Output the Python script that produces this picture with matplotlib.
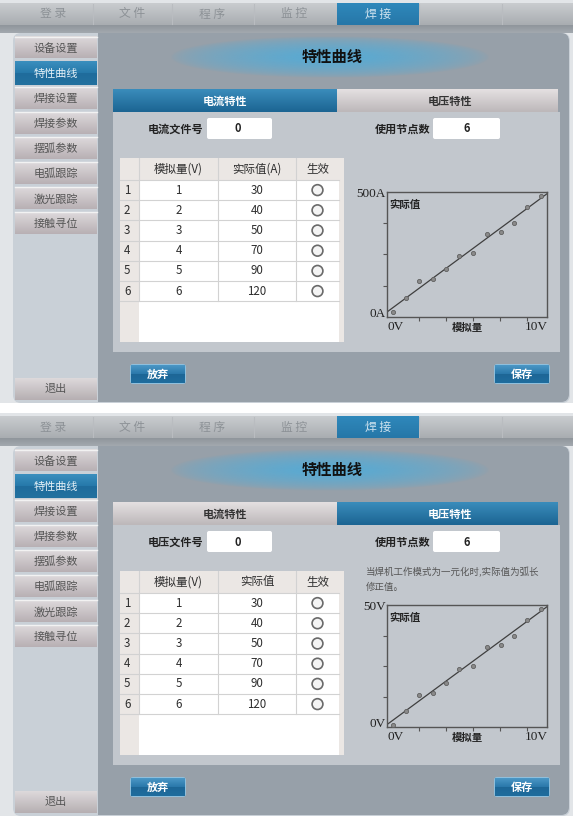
import numpy as np
import matplotlib
matplotlib.use('Agg')
import matplotlib.pyplot as plt
from matplotlib.patches import Rectangle, FancyBboxPatch, Circle
from matplotlib.colors import to_rgb

plt.rcParams['font.family'] = ['Noto Sans CJK SC', 'DejaVu Sans']

# ---- data ----
top_tabs = ['登 录', '文 件', '程 序', '监 控', '焊 接']
menu_items = ['设备设置', '特性曲线', '焊接设置', '焊接参数', '摆弧参数', '电弧跟踪', '激光跟踪', '接触寻位']
row_ids = [1, 2, 3, 4, 5, 6]
analog_v = [1, 2, 3, 4, 5, 6]
actual_vals = [30, 40, 50, 70, 90, 120]

curve_x = [0.35, 1.18, 2.01, 2.86, 3.69, 4.52, 5.39, 6.24, 7.10, 7.93, 8.76, 9.61]
current_y = [20, 77, 144, 152, 191, 245, 257, 333, 340, 377, 439, 485]
voltage_y = [0.7, 6.4, 13.3, 14.1, 18.1, 23.7, 24.8, 32.6, 33.6, 37.3, 43.7, 48.2]
fit_x = [0, 10]
current_fit = [20, 493]
voltage_fit = [1.0, 49.3]

W, H = 573, 819
fig = plt.figure(figsize=(W / 100, H / 100), dpi=100)
fig.patch.set_facecolor('#ffffff')
ax = fig.add_axes([0, 0, 1, 1])
ax.set_xlim(0, W)
ax.set_ylim(H, 0)
ax.axis('off')


def grad(x0, y0, x1, y1, c_top, c_bot, z=1):
    a, b = np.array(to_rgb(c_top)), np.array(to_rgb(c_bot))
    t = np.linspace(0, 1, 32)[:, None]
    img = (a * (1 - t) + b * t)[:, None, :]
    ax.imshow(img, extent=(x0, x1, y1, y0), origin='upper', aspect='auto',
              interpolation='bilinear', zorder=z)


def box(x0, y0, x1, y1, fc, ec='none', r=0, lw=1, z=2):
    if r > 0:
        p = FancyBboxPatch((x0, y0), x1 - x0, y1 - y0,
                           boxstyle=f'round,pad=0,rounding_size={r}',
                           fc=fc, ec=ec, lw=lw, zorder=z)
    else:
        p = Rectangle((x0, y0), x1 - x0, y1 - y0, fc=fc, ec=ec, lw=lw, zorder=z)
    ax.add_patch(p)


def glow(cx, cy, rx, ry, color, z=3):
    yy, xx = np.mgrid[-1:1:60j, -1:1:200j]
    d = np.clip(1 - np.sqrt(xx ** 2 + yy ** 2), 0, 1)
    img = np.zeros((60, 200, 4))
    img[..., :3] = to_rgb(color)
    img[..., 3] = np.clip(d ** 0.6 * 1.1, 0, 0.95)
    ax.imshow(img, extent=(cx - rx, cx + rx, cy + ry, cy - ry), origin='upper',
              aspect='auto', interpolation='bilinear', zorder=z)


def blue_button(x0, y0, x1, y1, label):
    box(x0 - 1, y0 - 1, x1 + 1, y1 + 1, '#8fbfdc', r=3, z=4)
    grad(x0, y0, x1, (y0 + y1) / 2, '#4b97c6', '#2a78aa', z=5)
    grad(x0, (y0 + y1) / 2, x1, y1, '#1d6696', '#1f6d9e', z=5)
    ax.text((x0 + x1) / 2, (y0 + y1) / 2, label, color='white', fontsize=8,
            fontweight='bold', ha='center', va='center', zorder=6)


def panel(oy, mode):
    volt = mode == 'voltage'
    # outer light area
    box(0, oy, W, oy + 403, '#e2e5e8', z=1)
    # top bar
    grad(0, oy + 3, W, oy + 25, '#c9cccf', '#a9adb1')
    for sx in [93, 172, 254, 337, 419, 502]:
        ax.plot([sx, sx], [oy + 4, oy + 24], color='#b9bcc0', lw=0.8, zorder=3)
    tab_cx = [53, 132, 212, 294, 378]
    for i, (cx, t) in enumerate(zip(tab_cx, top_tabs)):
        if i == 4:
            grad(337, oy + 3, 419, oy + 25, '#2f88bb', '#2677a8', z=3)
            ax.text(cx, oy + 14, t, color='#cfe3ef', fontsize=8.5, ha='center',
                    va='center', zorder=4)
        else:
            ax.text(cx, oy + 14, t, color='#8c9196', fontsize=8.5, ha='center',
                    va='center', zorder=4)
    grad(0, oy + 25, W, oy + 33, '#8f959b', '#a3a9af')

    # sidebar + main panel frame
    box(13, oy + 33, 570, oy + 403, '#c9d0d7', r=8, z=2)
    box(98, oy + 33, 569, oy + 402, '#97a0a9', r=8, z=2)
    box(98, oy + 33, 120, oy + 402, '#97a0a9', z=2)

    # sidebar menu
    for i, m in enumerate(menu_items):
        cy = oy + 47.5 + i * 25.1
        if i == 1:
            grad(15, cy - 12, 97, cy, '#3b8fbe', '#2679aa', z=3)
            grad(15, cy, 97, cy + 12, '#1f6c9c', '#23719f', z=3)
            ax.text(56, cy + 1, m, color='#e6f1f7', fontsize=8, ha='center',
                    va='center', zorder=4)
        else:
            grad(15, cy - 11, 97, cy + 11, '#ddd9db', '#b8b0b4', z=3)
            ax.plot([15, 97], [cy - 11, cy - 11], color='#f2f2f2', lw=1, zorder=4)
            ax.text(56, cy + 1, m, color='#555555', fontsize=8, ha='center',
                    va='center', zorder=4)
    grad(15, oy + 378, 97, oy + 400, '#ddd9db', '#b6afb2', z=3)
    ax.text(56, oy + 389, '退出', color='#555555', fontsize=8, ha='center',
            va='center', zorder=4)

    # title with glow
    glow(330, oy + 57, 160, 21, '#5aaad2')
    ax.text(332, oy + 57, '特性曲线', color='#111111', fontsize=11,
            fontweight='bold', ha='center', va='center', zorder=5)

    # tabs
    if volt:
        grad(113, oy + 89, 337, oy + 112, '#e4e0e1', '#bdb8ba', z=3)
        grad(337, oy + 89, 558, oy + 112, '#3a8cbb', '#1c6593', z=3)
        ax.text(225, oy + 101, '电流特性', color='#333333', fontsize=8,
                fontweight='bold', ha='center', va='center', zorder=4)
        ax.text(450, oy + 101, '电压特性', color='white', fontsize=8,
                fontweight='bold', ha='center', va='center', zorder=4)
    else:
        grad(113, oy + 89, 337, oy + 112, '#3a8cbb', '#1c6593', z=3)
        grad(337, oy + 89, 558, oy + 112, '#e4e0e1', '#bdb8ba', z=3)
        ax.text(225, oy + 101, '电流特性', color='white', fontsize=8,
                fontweight='bold', ha='center', va='center', zorder=4)
        ax.text(450, oy + 101, '电压特性', color='#333333', fontsize=8,
                fontweight='bold', ha='center', va='center', zorder=4)

    # content area
    box(113, oy + 112, 560, oy + 352, '#c2c7cd', z=3)

    # file number / node count
    ax.text(203, oy + 129, '电压文件号' if volt else '电流文件号', color='#222222',
            fontsize=8, fontweight='bold', ha='right', va='center', zorder=4)
    box(207, oy + 118, 272, oy + 139, 'white', r=2, z=4)
    ax.text(238, oy + 129, '0', color='#222222', fontsize=8, fontweight='bold',
            ha='center', va='center', zorder=5)
    ax.text(430, oy + 129, '使用节点数', color='#222222', fontsize=8,
            fontweight='bold', ha='right', va='center', zorder=4)
    box(433, oy + 118, 500, oy + 139, 'white', r=2, z=4)
    ax.text(467, oy + 129, '6', color='#222222', fontsize=8, fontweight='bold',
            ha='center', va='center', zorder=5)

    # table
    tx = [120, 139, 218, 296, 339]
    t_top, t_head, row_h, t_bot = oy + 158, oy + 180, 20.2, oy + 342
    box(120, t_top, 344, t_bot, '#ebe7e4', z=4)
    box(139, t_head, 339, t_bot, 'white', z=4)
    heads = ['模拟量(V)', '实际值' if volt else '实际值(A)', '生效']
    tbl = dict(color='#2e2e2e', fontsize=8.3, fontweight='medium', zorder=5)
    for j, hd in enumerate(heads):
        ax.text((tx[j + 1] + tx[j + 2]) / 2, (t_top + t_head) / 2, hd,
                ha='center', va='center', **tbl)
    for x in tx[1:4]:
        ax.plot([x, x], [t_top, t_head + row_h * len(row_ids)], color='#d2d2d2',
                lw=0.8, zorder=5)
    for i, (rid, av, val) in enumerate(zip(row_ids, analog_v, actual_vals)):
        y0 = t_head + i * row_h
        cy = y0 + row_h / 2
        ax.plot([120, 339], [y0 + row_h, y0 + row_h], color='#d2d2d2', lw=0.8,
                zorder=5)
        ax.text(124, cy, str(rid), ha='left', va='center', **tbl)
        ax.text(178.5, cy, str(av), ha='center', va='center', **tbl)
        ax.text(257, cy, str(val), ha='center', va='center', **tbl)
        ax.add_patch(Circle((317.5, cy), 5.4, fc='#f4f4f4', ec='#6a6a6a', lw=1.2,
                            zorder=5))
    ax.plot([120, 339], [t_head, t_head], color='#d2d2d2', lw=0.8, zorder=5)

    # note (voltage only)
    if volt:
        ax.text(366, oy + 159, '当焊机工作模式为一元化时,实际值为弧长', color='#555555',
                fontsize=6.8, ha='left', va='center', zorder=5)
        ax.text(366, oy + 174, '修正值。', color='#555555', fontsize=6.8,
                ha='left', va='center', zorder=5)

    # buttons
    blue_button(131, oy + 365, 185, oy + 383, '放弃')
    blue_button(495, oy + 365, 549, oy + 383, '保存')


def curve(px0, py0, px1, py1, ys, fit, ymax, unit):
    cax = fig.add_axes([px0 / W, 1 - py1 / H, (px1 - px0) / W, (py1 - py0) / H])
    cax.set_facecolor('none')
    cax.plot(fit_x, fit, color='#3f3f3f', lw=0.9, zorder=2)
    cax.plot(curve_x, ys, 'o', ms=3, mfc='#8a8a8a', mec='#606060', mew=0.6,
             zorder=3)
    cax.set_xlim(0, 10)
    cax.set_ylim(0, ymax)
    cax.set_xticks(np.arange(2.01, 9.5, 1.69))
    cax.set_yticks(np.arange(1, 4) * ymax / 4)
    cax.tick_params(direction='out', length=3, width=0.8, color='#555555',
                    labelbottom=False, labelleft=False)
    for s in cax.spines.values():
        s.set_color('#555555')
        s.set_linewidth(1)
    serif = dict(family='Liberation Serif', fontsize=9.5, color='#222222', zorder=6)
    ax.text(px0 - 1, py0 + 2, f'{ymax}{unit}', ha='right', va='center', **serif)
    ax.text(px0 - 1, py1 - 3, f'0{unit}', ha='right', va='center', **serif)
    ax.text(px0 + 1, py1 + 10, '0V', ha='left', va='center', **serif)
    ax.text(px1 + 1, py1 + 10, '10V', ha='right', va='center', **serif)
    ax.text((px0 + px1) / 2, py1 + 11, '模拟量', ha='center', va='center',
            fontsize=7.5, color='#222222', fontweight='bold', zorder=6)
    ax.text(px0 + 2, py0 + 13, '实际值', ha='left', va='center', fontsize=7.5,
            color='#222222', fontweight='bold', zorder=6)


panel(0, 'current')
panel(413, 'voltage')
curve(387, 192, 547, 317, current_y, current_fit, 500, 'A')
curve(387, 605, 547, 727, voltage_y, voltage_fit, 50, 'V')

ax.set_xlim(0, W)
ax.set_ylim(H, 0)
fig.savefig('out.png', dpi=100, facecolor=fig.get_facecolor())
